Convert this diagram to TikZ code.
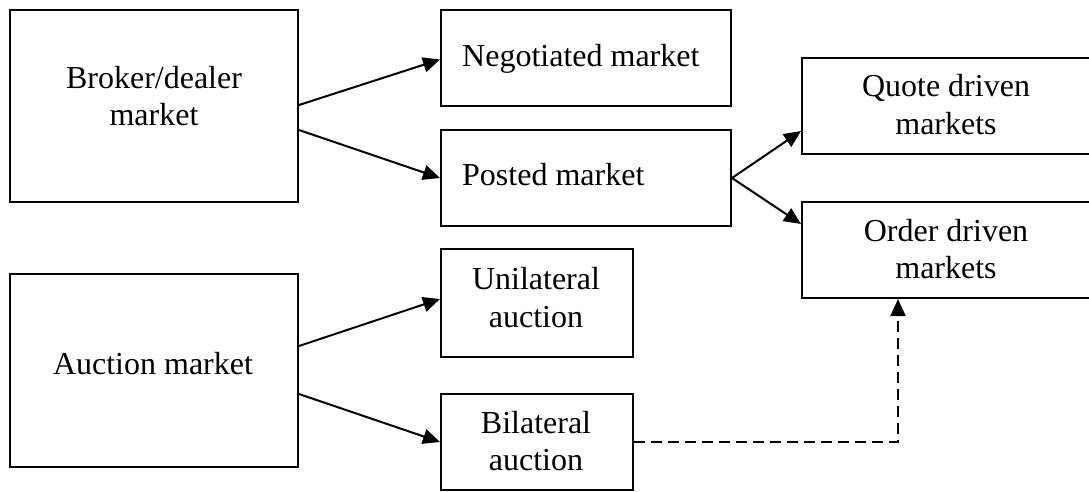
\documentclass[tikz,border=0pt]{standalone}
\usepackage{fontspec}
\setmainfont{Liberation Serif}
\usetikzlibrary{arrows.meta}
\begin{document}
\begin{tikzpicture}[x=1pt,y=-1pt,
  box/.style={draw, line width=2pt, inner sep=0pt, rectangle},
  txt/.style={anchor=base, inner sep=0pt, font=\fontsize{32}{37}\selectfont},
  txtl/.style={anchor=base west, inner sep=0pt, font=\fontsize{32}{37}\selectfont},
  conn/.style={line width=2pt, -{Triangle[length=17pt,width=15pt]}},
  dconn/.style={line width=2pt, dash pattern=on 11pt off 6pt, -{Triangle[length=17pt,width=15pt]}}
]
\useasboundingbox (0,0) rectangle (1089,491);
% boxes
\node[box, minimum width=288pt, minimum height=192pt] (broker) at (154,106) {};
\node[box, minimum width=288pt, minimum height=193pt] (auction) at (154,370) {};
\node[box, minimum width=290pt, minimum height=96pt] (neg) at (586,57.5) {};
\node[box, minimum width=290pt, minimum height=96pt] (posted) at (586,178) {};
\node[box, minimum width=290pt, minimum height=96pt] (quote) at (947,106) {};
\node[box, minimum width=290pt, minimum height=96pt] (order) at (947,250) {};
\node[box, minimum width=192pt, minimum height=108pt] (uni) at (537,303) {};
\node[box, minimum width=192pt, minimum height=96pt] (bil) at (537,442) {};
% texts
\node[txt] (t1a) at (154,88) {Broker/dealer};
\node[txt] (t1b) at (154,125) {market};
\node[txt] (t2) at (153,374) {Auction market};
\node[txtl] (t3) at (462,66) {Negotiated market};
\node[txtl] (t4) at (462,185) {Posted market};
\node[txt] (t5a) at (946,96) {Quote driven};
\node[txt] (t5b) at (946,134) {markets};
\node[txt] (t6a) at (946,241) {Order driven};
\node[txt] (t6b) at (946,278) {markets};
\node[txt] (t7a) at (536,289) {Unilateral};
\node[txt] (t7b) at (536,327) {auction};
\node[txt] (t8a) at (536,433) {Bilateral};
\node[txt] (t8b) at (536,470) {auction};
% connectors
\draw[conn] ([yshift=1pt]broker.east) -- ([yshift=-2pt]neg.west);
\draw[conn] ([yshift=-24pt]broker.east) -- (posted.west);
\draw[conn] (posted.east) -- ([yshift=-25pt]quote.west);
\draw[conn] (posted.east) -- ([yshift=26pt]order.west);
\draw[conn] ([yshift=24pt]auction.east) -- ([yshift=4pt]uni.west);
\draw[conn] ([yshift=-24pt]auction.east) -- (bil.west);
\draw[dconn] (bil.east) -| ([xshift=-49pt]order.south);
\end{tikzpicture}
\end{document}
